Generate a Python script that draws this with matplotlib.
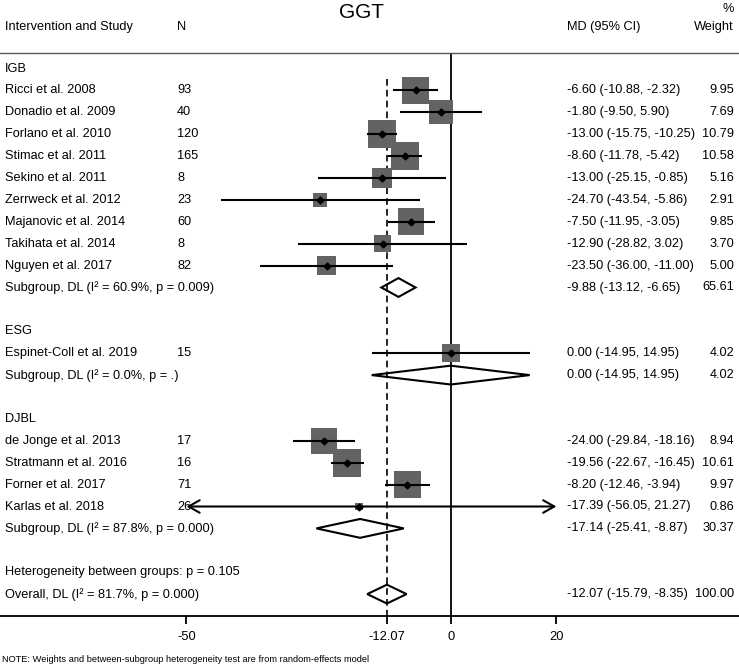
import numpy as np
import matplotlib.pyplot as plt
from matplotlib.patches import Polygon
from matplotlib.transforms import blended_transform_factory

plt.rcParams['font.family'] = ['Liberation Sans', 'DejaVu Sans']

# --- data ---
groups = ['IGB', 'ESG', 'DJBL']

igb_study = ['Ricci et al. 2008', 'Donadio et al. 2009', 'Forlano et al. 2010',
             'Stimac et al. 2011', 'Sekino et al. 2011', 'Zerrweck et al. 2012',
             'Majanovic et al. 2014', 'Takihata et al. 2014', 'Nguyen et al. 2017']
igb_n = [93, 40, 120, 165, 8, 23, 60, 8, 82]
igb_md = [-6.60, -1.80, -13.00, -8.60, -13.00, -24.70, -7.50, -12.90, -23.50]
igb_lo = [-10.88, -9.50, -15.75, -11.78, -25.15, -43.54, -11.95, -28.82, -36.00]
igb_hi = [-2.32, 5.90, -10.25, -5.42, -0.85, -5.86, -3.05, 3.02, -11.00]
igb_w = [9.95, 7.69, 10.79, 10.58, 5.16, 2.91, 9.85, 3.70, 5.00]

esg_study = ['Espinet-Coll et al. 2019']
esg_n = [15]
esg_md = [0.00]
esg_lo = [-14.95]
esg_hi = [14.95]
esg_w = [4.02]

djbl_study = ['de Jonge et al. 2013', 'Stratmann et al. 2016', 'Forner et al. 2017',
              'Karlas et al. 2018']
djbl_n = [17, 16, 71, 26]
djbl_md = [-24.00, -19.56, -8.20, -17.39]
djbl_lo = [-29.84, -22.67, -12.46, -56.05]
djbl_hi = [-18.16, -16.45, -3.94, 21.27]
djbl_w = [8.94, 10.61, 9.97, 0.86]

# subgroup pooled results: md, lo, hi, weight, I2, p
sub_md = [-9.88, 0.00, -17.14]
sub_lo = [-13.12, -14.95, -25.41]
sub_hi = [-6.65, 14.95, -8.87]
sub_w = [65.61, 4.02, 30.37]
sub_i2 = ['60.9%', '0.0%', '87.8%']
sub_p = ['0.009', '.', '0.000']

het_p = '0.105'
overall = (-12.07, -15.79, -8.35, 100.00)
overall_i2 = '81.7%'
overall_p = '0.000'

xmin_axis, xmax_axis = -50, 20
ticks = [-50, overall[0], 0, 20]

study_data = [
    (igb_study, igb_n, igb_md, igb_lo, igb_hi, igb_w),
    (esg_study, esg_n, esg_md, esg_lo, esg_hi, esg_w),
    (djbl_study, djbl_n, djbl_md, djbl_lo, djbl_hi, djbl_w),
]

# --- figure ---
W, H = 739, 665
fig = plt.figure(figsize=(W / 100, H / 100), dpi=100)
ax = fig.add_axes([0, 0, 1, 1])
scale = 5.285
x0 = 450.7
ax.set_xlim((0 - x0) / scale, (W - x0) / scale)
row_h, row0 = 21.9, 68.5
ax.set_ylim((H - row0) / row_h, (0 - row0) / row_h)

tr = blended_transform_factory(ax.transAxes, ax.transData)
fs = 9.2
col_study = 5 / W
col_n = 177 / W
col_ci = 567 / W
col_w = 734 / W


def fmt_ci(m, l, h):
    return f'{m:.2f} ({l:.2f}, {h:.2f})'


def diamond(m, l, h, r, hh=0.43):
    ax.add_patch(Polygon([(l, r), (m, r - hh), (h, r), (m, r + hh)], closed=True,
                         fill=False, edgecolor='black', lw=1.5, zorder=4))


# header
ax.text(362 / W, -2.55, 'GGT', transform=tr, fontsize=15, ha='center', va='center')
ax.text(col_study, -1.9, 'Intervention and Study', transform=tr, fontsize=fs, va='center')
ax.text(col_n, -1.9, 'N', transform=tr, fontsize=fs, va='center')
ax.text(col_ci, -1.9, 'MD (95% CI)', transform=tr, fontsize=fs, va='center')
ax.text(col_w, -1.9, 'Weight', transform=tr, fontsize=fs, va='center', ha='right')
ax.text(728 / W, -2.72, '%', transform=tr, fontsize=fs, va='center', ha='center')
ax.axhline(-0.71, color='#555555', lw=1.0)

r = 0
for g, (names, ns, mds, los, his, ws), smd, slo, shi, sw, si2, sp in zip(
        groups, study_data, sub_md, sub_lo, sub_hi, sub_w, sub_i2, sub_p):
    ax.text(col_study, r, g, transform=tr, fontsize=fs, va='center')
    r += 1
    rows = np.arange(r, r + len(names))
    ax.scatter(mds, rows, s=38 * np.array(ws), marker='s', color='#636363',
               linewidths=0, zorder=2)
    ax.plot(mds, rows, 'D', ms=3.5, color='black', zorder=5)
    for name, n, m, l, h, w, rr in zip(names, ns, mds, los, his, ws, rows):
        ax.text(col_study, rr, name, transform=tr, fontsize=fs, va='center')
        ax.text(col_n, rr, str(n), transform=tr, fontsize=fs, va='center')
        ax.text(col_ci, rr, fmt_ci(m, l, h), transform=tr, fontsize=fs, va='center')
        ax.text(col_w, rr, f'{w:.2f}', transform=tr, fontsize=fs, va='center', ha='right')
        if l < xmin_axis or h > xmax_axis:
            ax.annotate('', xy=(max(l, xmin_axis), rr), xytext=(min(h, xmax_axis), rr),
                        arrowprops=dict(arrowstyle='<->,head_length=0.8,head_width=0.45',
                                        lw=1.5, color='black', shrinkA=0, shrinkB=0),
                        zorder=6)
        else:
            ax.hlines(rr, l, h, color='black', lw=1.5, zorder=4)
    r += len(names)
    ax.text(col_study, r, f'Subgroup, DL (I² = {si2}, p = {sp})', transform=tr,
            fontsize=fs, va='center')
    ax.text(col_ci, r, fmt_ci(smd, slo, shi), transform=tr, fontsize=fs, va='center')
    ax.text(col_w, r, f'{sw:.2f}', transform=tr, fontsize=fs, va='center', ha='right')
    diamond(smd, slo, shi, r)
    r += 2

ax.text(col_study, r, f'Heterogeneity between groups: p = {het_p}', transform=tr,
        fontsize=fs, va='center')
r += 1
om, ol, oh, ow = overall
ax.text(col_study, r, f'Overall, DL (I² = {overall_i2}, p = {overall_p})', transform=tr,
        fontsize=fs, va='center')
ax.text(col_ci, r, fmt_ci(om, ol, oh), transform=tr, fontsize=fs, va='center')
ax.text(col_w, r, f'{ow:.2f}', transform=tr, fontsize=fs, va='center', ha='right')
diamond(om, ol, oh, r)

axis_row = r + 1
ax.vlines(0, -0.71, axis_row, color='black', lw=1.3, zorder=1)
ax.vlines(om, 0.5, axis_row, color='black', lw=1.2, linestyles=(0, (4, 2.5)), zorder=1)

# bottom axis
for s in ['top', 'left', 'right']:
    ax.spines[s].set_visible(False)
ax.spines['bottom'].set_position(('data', axis_row))
ax.spines['bottom'].set_linewidth(1.3)
ax.set_yticks([])
ax.set_xticks(ticks)
ax.set_xticklabels(['-50', f'{om:.2f}', '0', '20'], fontsize=9.3)
ax.tick_params(axis='x', direction='out', length=6, width=1.3, pad=5)

ax.text(2 / W, axis_row + 2, 'NOTE: Weights and between-subgroup heterogeneity test '
        'are from random-effects model', transform=tr, fontsize=6.7, va='center')

fig.savefig('out.png', dpi=100)
